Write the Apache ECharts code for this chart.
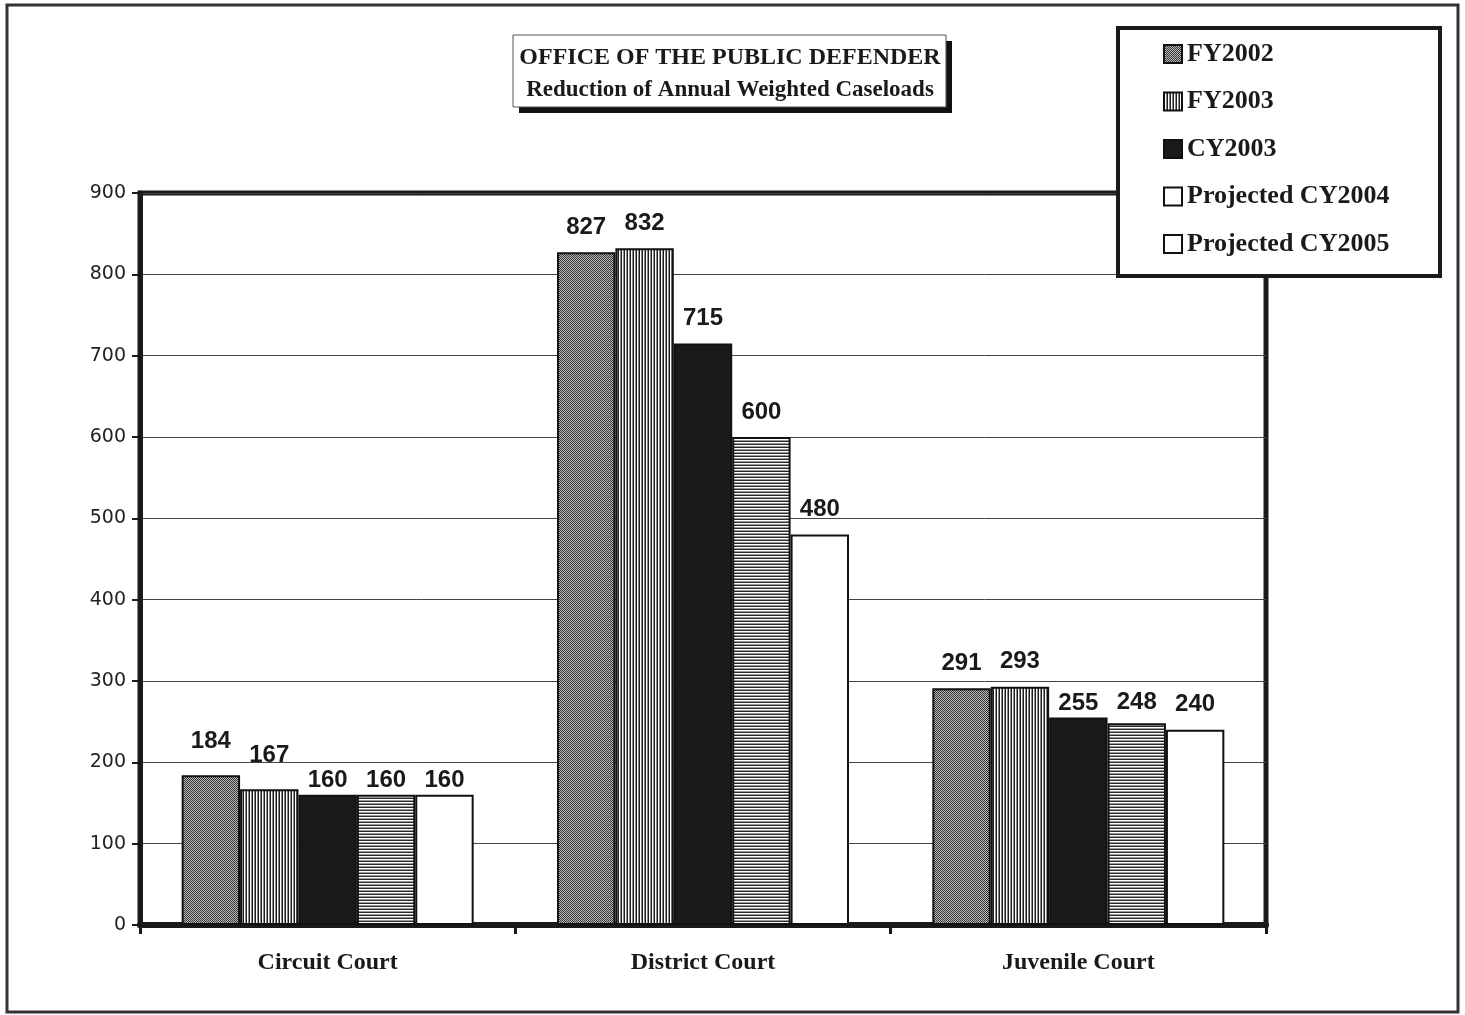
<!DOCTYPE html>
<html>
<head>
<meta charset="utf-8">
<script src="https://cdn.jsdelivr.net/npm/echarts@6/dist/echarts.min.js"></script>
<style>
html,body{margin:0;padding:0;background:#fff;}
#chart{width:1465px;height:1015px;}
</style>
</head>
<body>
<div id="chart"></div>
<script>
const categories = ['Circuit Court', 'District Court', 'Juvenile Court'];
const seriesNames = ['FY2002', 'FY2003', 'CY2003', 'Projected CY2004', 'Projected CY2005'];
const fy2002 = [184, 827, 291];
const fy2003 = [167, 832, 293];
const cy2003 = [160, 715, 255];
const cy2004 = [160, 600, 248];
const cy2005 = [160, 480, 240];
const yMin = 0, yMax = 900, yStep = 100;
const titleLine1 = 'OFFICE OF THE PUBLIC DEFENDER';
const titleLine2 = 'Reduction of Annual Weighted Caseloads';

// label gap above each bar (style only), per series and category
const labelGaps = [
  [22, 13, 13],
  [22, 13, 13],
  [2, 13, 2],
  [2, 13, 9],
  [2, 13, 13]
];

function pattern(w, h, draw) {
  const c = document.createElement('canvas');
  c.width = w; c.height = h;
  const ctx = c.getContext('2d');
  draw(ctx);
  return { image: c, repeat: 'repeat' };
}
const checker = pattern(2, 2, ctx => {
  ctx.fillStyle = '#bdbdbd'; ctx.fillRect(0, 0, 2, 2);
  ctx.fillStyle = '#333333'; ctx.fillRect(0, 0, 1, 1); ctx.fillRect(1, 1, 1, 1);
});
const vstripe = pattern(3, 1, ctx => {
  ctx.fillStyle = '#ffffff'; ctx.fillRect(0, 0, 3, 1);
  ctx.fillStyle = '#1e1e1e'; ctx.fillRect(0, 0, 1, 1);
  ctx.fillStyle = '#8a8a8a'; ctx.fillRect(2, 0, 1, 1);
});
const hstripe = pattern(1, 3, ctx => {
  ctx.fillStyle = '#ffffff'; ctx.fillRect(0, 0, 1, 3);
  ctx.fillStyle = '#2a2a2a'; ctx.fillRect(0, 0, 1, 1);
  ctx.fillStyle = '#9a9a9a'; ctx.fillRect(0, 2, 1, 1);
});
const fills = [checker, vstripe, '#1a1a1a', hstripe, '#ffffff'];
const legendFills = [checker, vstripe, '#1a1a1a', '#ffffff', '#ffffff'];
const values = [fy2002, fy2003, cy2003, cy2004, cy2005];

const serif = '"Liberation Serif", "Times New Roman", serif';
const sans = '"Liberation Sans", Arial, sans-serif';

const chart = echarts.init(document.getElementById('chart'), null, { renderer: 'canvas' });

const series = seriesNames.map((name, i) => ({
  name: name,
  type: 'bar',
  data: values[i].map((v, j) => ({ value: v, label: { distance: labelGaps[i][j] } })),
  barWidth: 58.4,
  barGap: '0%',
  itemStyle: { color: fills[i], borderColor: '#111', borderWidth: 2 },
  label: {
    show: true, position: 'top', distance: 13,
    fontFamily: sans, fontWeight: 'bold', fontSize: 24, color: '#1a1a1a'
  },
  emphasis: { disabled: true }
}));

chart.setOption({
  backgroundColor: '#ffffff',
  animation: false,
  title: {
    text: titleLine1,
    subtext: titleLine2,
    left: 725, top: 41, textAlign: 'center',
    itemGap: 9,
    textStyle: { fontFamily: serif, fontWeight: 'bold', fontSize: 24, color: '#1a1a1a' },
    subtextStyle: { fontFamily: serif, fontWeight: 'bold', fontSize: 23, color: '#1a1a1a' },
    z: 20
  },
  legend: {
    orient: 'vertical',
    left: 1163, top: 41,
    itemWidth: 18, itemHeight: 18,
    itemGap: 21.5,
    icon: 'rect',
    selectedMode: false,
    padding: 0,
    textStyle: { fontFamily: serif, fontWeight: 'bold', fontSize: 26, color: '#1a1a1a', lineHeight: 24 },
    data: seriesNames.map((n, i) => ({ name: n, itemStyle: { color: legendFills[i], borderColor: '#111', borderWidth: 2 } })),
    z: 20
  },
  grid: {
    left: 140, right: 199, top: 193, bottom: 90,
    show: true, borderColor: '#1a1a1a', borderWidth: 5, backgroundColor: 'transparent'
  },
  xAxis: {
    type: 'category',
    data: categories,
    axisLine: { lineStyle: { color: '#1a1a1a', width: 6 } },
    axisTick: { show: true, length: 9, interval: 0, lineStyle: { color: '#1a1a1a', width: 3 } },
    axisLabel: { margin: 26, fontFamily: serif, fontWeight: 'bold', fontSize: 24, color: '#1a1a1a' },
    splitLine: { show: false }
  },
  yAxis: {
    type: 'value',
    min: yMin, max: yMax, interval: yStep,
    axisLine: { show: true, lineStyle: { color: '#1a1a1a', width: 5 } },
    axisTick: { show: true, length: 8, lineStyle: { color: '#1a1a1a', width: 2 } },
    axisLabel: { margin: 14, fontFamily: '"DejaVu Sans", sans-serif', fontSize: 19, color: '#222' },
    splitLine: { show: true, lineStyle: { color: '#444', width: 1 } }
  },
  graphic: [
    { type: 'rect', z: 1, silent: true, shape: { x: 7, y: 5, width: 1451, height: 1007 },
      style: { fill: 'none', stroke: '#333', lineWidth: 3 } },
    { type: 'rect', z: 15, silent: true, shape: { x: 519, y: 41, width: 433, height: 72 },
      style: { fill: '#111' } },
    { type: 'rect', z: 16, silent: true, shape: { x: 513, y: 35, width: 433, height: 72 },
      style: { fill: '#fff', stroke: '#555', lineWidth: 1 } },
    { type: 'rect', z: 16, silent: true, shape: { x: 1118, y: 28, width: 322, height: 248 },
      style: { fill: '#fff', stroke: '#1a1a1a', lineWidth: 4 } }
  ],
  series: series
});
</script>
</body>
</html>
